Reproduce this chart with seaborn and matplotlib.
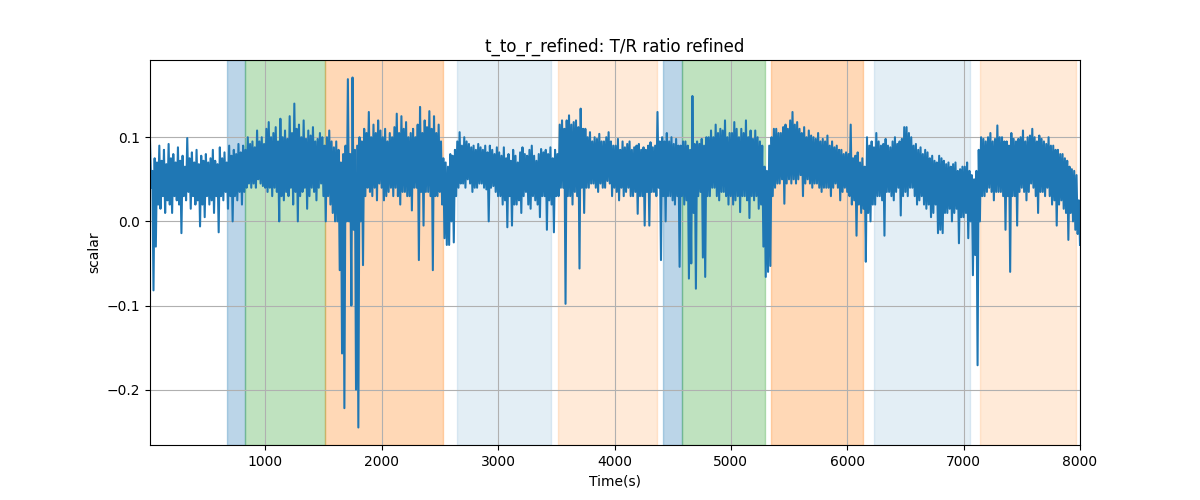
import numpy as np
import matplotlib
matplotlib.use("Agg")
import matplotlib.pyplot as plt
import seaborn as sns

# ---- data ----
# The signal is dense: for every 20 s bin we keep its peak and its trough,
# and the line visits them alternately.
t_start, t_end = 8, 8000

peaks_0 = [0.095, 0.060, 0.075, 0.070, 0.090, 0.072, 0.085, 0.068, 0.092, 0.075,
           0.080, 0.070, 0.088, 0.072, 0.078, 0.065, 0.099, 0.075, 0.082, 0.070,
           0.085, 0.068, 0.078, 0.072, 0.080, 0.070, 0.075, 0.085, 0.072, 0.068,
           0.088, 0.075, 0.082, 0.070, 0.090, 0.078, 0.085, 0.080, 0.092, 0.082,
           0.090, 0.085, 0.100, 0.092, 0.095, 0.088, 0.108, 0.095, 0.100, 0.092]
troughs_0 = [0.040, -0.082, -0.030, 0.020, 0.015, 0.030, 0.010, 0.025, 0.020, 0.010,
             0.030, 0.025, 0.020, -0.014, 0.030, 0.025, 0.035, 0.015, 0.030, 0.020,
             0.025, -0.006, 0.020, 0.005, 0.030, 0.020, 0.025, 0.010, 0.030, -0.013,
             0.030, 0.025, 0.035, 0.015, 0.030, 0.000, 0.030, 0.025, 0.035, 0.020,
             0.035, 0.040, 0.045, 0.040, 0.045, 0.040, 0.050, 0.045, 0.042, 0.040]

peaks_1 = [0.110, 0.118, 0.100, 0.105, 0.112, 0.095, 0.122, 0.100, 0.108, 0.098,
           0.125, 0.105, 0.140, 0.110, 0.115, 0.100, 0.120, 0.098, 0.108, 0.102,
           0.112, 0.095, 0.098, 0.105, 0.100, 0.090, 0.100, 0.108, 0.095, 0.088,
           0.095, 0.085, 0.070, 0.080, 0.090, 0.169, 0.080, 0.171, 0.085, 0.090,
           0.100, 0.095, 0.110, 0.105, 0.130, 0.100, 0.115, 0.105, 0.120, 0.108]
troughs_1 = [0.035, 0.040, 0.030, 0.040, 0.035, 0.000, 0.030, 0.025, 0.035, 0.030,
             0.040, 0.020, 0.035, 0.000, 0.030, 0.035, 0.040, 0.015, 0.030, 0.040,
             0.035, 0.025, 0.040, 0.045, 0.030, 0.000, 0.030, 0.020, 0.010, 0.000,
             0.000, -0.058, -0.157, -0.222, 0.000, 0.000, -0.100, -0.010, -0.200, -0.245,
             0.000, -0.052, 0.030, 0.040, 0.035, 0.030, 0.040, 0.025, 0.045, 0.040]

peaks_2 = [0.100, 0.110, 0.095, 0.105, 0.100, 0.112, 0.128, 0.105, 0.125, 0.110,
           0.118, 0.100, 0.105, 0.110, 0.100, 0.115, 0.136, 0.105, 0.120, 0.112,
           0.131, 0.110, 0.125, 0.105, 0.115, 0.095, 0.075, 0.070, 0.065, 0.080,
           0.078, 0.085, 0.095, 0.106, 0.090, 0.100, 0.095, 0.092, 0.088, 0.090,
           0.085, 0.092, 0.088, 0.085, 0.090, 0.082, 0.090, 0.085, 0.080, 0.088]
troughs_2 = [0.025, 0.030, 0.035, 0.040, 0.030, 0.040, 0.030, 0.020, 0.035, 0.035,
             0.030, 0.030, 0.013, 0.040, 0.040, -0.046, 0.035, -0.005, 0.035, 0.035,
             0.030, -0.058, 0.030, 0.030, 0.035, 0.020, -0.020, -0.028, -0.028, 0.000,
             -0.025, 0.030, 0.040, 0.045, 0.045, 0.040, 0.050, 0.045, 0.035, 0.040,
             0.040, 0.045, 0.045, 0.040, 0.038, 0.000, 0.040, 0.042, 0.035, 0.030]

peaks_3 = [0.082, 0.078, 0.088, 0.075, 0.080, 0.072, 0.085, 0.078, 0.070, 0.082,
           0.088, 0.080, 0.078, 0.085, 0.090, 0.078, 0.072, 0.080, 0.086, 0.082,
           0.085, 0.080, 0.088, 0.075, 0.085, 0.080, 0.115, 0.120, 0.110, 0.120,
           0.126, 0.115, 0.118, 0.120, 0.112, 0.134, 0.110, 0.110, 0.100, 0.106,
           0.095, 0.100, 0.098, 0.104, 0.095, 0.095, 0.100, 0.106, 0.095, 0.090]
troughs_3 = [0.030, 0.020, 0.025, -0.007, 0.030, -0.005, 0.020, 0.020, 0.025, 0.010,
             0.030, 0.035, 0.020, 0.015, 0.030, 0.025, 0.020, 0.005, 0.030, 0.030,
             -0.010, 0.025, 0.020, -0.013, 0.030, 0.030, 0.040, 0.040, -0.098, 0.030,
             0.030, 0.020, 0.035, 0.030, -0.056, 0.040, 0.010, 0.040, 0.040, 0.045,
             0.045, 0.040, 0.035, 0.045, 0.040, 0.040, 0.048, 0.045, 0.030, 0.040]

peaks_4 = [0.090, 0.098, 0.085, 0.095, 0.088, 0.092, 0.095, 0.085, 0.088, 0.090,
           0.092, 0.085, 0.088, 0.085, 0.090, 0.094, 0.088, 0.090, 0.130, 0.095,
           0.100, 0.095, 0.105, 0.095, 0.100, 0.092, 0.098, 0.090, 0.090, 0.095,
           0.095, 0.090, 0.085, 0.149, 0.092, 0.095, 0.092, 0.098, 0.090, 0.100,
           0.100, 0.108, 0.100, 0.115, 0.105, 0.110, 0.108, 0.120, 0.100, 0.105]
troughs_4 = [0.035, 0.025, 0.040, 0.030, 0.035, 0.040, 0.030, 0.030, 0.035, 0.009,
             0.030, 0.030, -0.005, 0.035, -0.005, 0.035, 0.035, 0.030, 0.040, -0.046,
             0.030, 0.000, 0.030, 0.030, 0.025, 0.020, 0.030, -0.054, 0.030, 0.020,
             0.025, -0.068, -0.050, 0.010, -0.080, 0.030, 0.035, -0.043, -0.066, 0.030,
             0.030, 0.040, 0.040, 0.030, 0.025, 0.035, 0.035, 0.030, 0.020, 0.030]

peaks_5 = [0.105, 0.118, 0.110, 0.100, 0.110, 0.105, 0.120, 0.100, 0.108, 0.098,
           0.108, 0.100, 0.095, 0.090, 0.065, 0.060, 0.090, 0.100, 0.110, 0.110,
           0.105, 0.105, 0.112, 0.115, 0.110, 0.120, 0.130, 0.115, 0.118, 0.110,
           0.105, 0.112, 0.100, 0.108, 0.102, 0.100, 0.098, 0.105, 0.095, 0.098,
           0.095, 0.102, 0.090, 0.095, 0.088, 0.090, 0.085, 0.085, 0.080, 0.082]
troughs_5 = [0.020, 0.025, 0.030, 0.011, 0.030, 0.030, 0.025, 0.004, 0.030, 0.025,
             0.030, 0.015, 0.020, -0.030, -0.066, -0.060, -0.053, 0.030, 0.040, 0.045,
             0.045, 0.050, 0.021, 0.045, 0.050, 0.045, 0.050, 0.045, 0.050, 0.055,
             0.030, 0.045, 0.050, 0.045, 0.040, 0.045, 0.045, 0.040, 0.035, 0.040,
             0.040, 0.040, 0.030, 0.040, 0.045, 0.040, 0.025, 0.035, 0.040, 0.035]

peaks_6 = [0.080, 0.115, 0.075, 0.078, 0.082, 0.070, 0.075, 0.065, 0.100, 0.090,
           0.095, 0.088, 0.105, 0.095, 0.090, 0.092, 0.098, 0.090, 0.088, 0.095,
           0.100, 0.092, 0.095, 0.098, 0.112, 0.112, 0.105, 0.100, 0.090, 0.092,
           0.085, 0.088, 0.080, 0.085, 0.082, 0.075, 0.078, 0.072, 0.070, 0.078,
           0.075, 0.072, 0.068, 0.070, 0.065, 0.068, 0.070, 0.060, 0.062, 0.065]
troughs_6 = [0.030, 0.020, 0.025, -0.017, 0.020, 0.010, 0.015, -0.048, 0.010, 0.000,
             0.020, 0.020, 0.030, 0.030, 0.025, -0.017, 0.035, 0.035, 0.030, 0.025,
             0.035, 0.040, 0.007, 0.030, 0.035, 0.030, 0.040, 0.040, 0.030, 0.020,
             0.025, 0.030, 0.020, 0.015, 0.020, 0.005, 0.010, 0.020, -0.014, -0.010,
             -0.014, 0.010, 0.010, 0.015, 0.000, 0.010, 0.015, -0.026, 0.005, 0.005]

peaks_7 = [0.065, 0.070, 0.060, 0.055, 0.050, 0.060, 0.085, 0.100, 0.098, 0.095,
           0.100, 0.105, 0.095, 0.098, 0.114, 0.100, 0.100, 0.095, 0.095, 0.090,
           0.105, 0.098, 0.095, 0.098, 0.100, 0.108, 0.095, 0.100, 0.102, 0.110,
           0.100, 0.095, 0.102, 0.098, 0.095, 0.092, 0.100, 0.090, 0.090, 0.085,
           0.085, 0.080, 0.080, 0.075, 0.072, 0.065, 0.062, 0.060, 0.055, 0.025]
troughs_7 = [0.010, -0.020, 0.000, -0.064, -0.040, -0.171, 0.000, 0.030, 0.030, 0.035,
             0.040, 0.035, 0.025, 0.035, 0.035, 0.035, 0.030, -0.010, 0.030, -0.060,
             0.030, 0.030, -0.005, 0.035, 0.040, 0.035, 0.025, 0.035, 0.045, 0.040,
             0.030, 0.010, 0.035, 0.035, 0.030, 0.040, 0.030, 0.020, 0.025, -0.005,
             0.020, 0.025, 0.015, 0.010, -0.022, 0.010, 0.000, -0.010, -0.015, -0.028]

span_starts = [667, 825, 1513, 2645, 3511, 4414, 4580, 5342, 6228, 7139]
span_ends = [825, 1513, 2525, 3456, 4362, 4580, 5290, 6139, 7059, 7962]
span_kinds = ["blue", "green", "orange", "lblue", "lorange",
              "blue", "green", "orange", "lblue", "lorange"]

title = "t_to_r_refined: T/R ratio refined"
xlabel = "Time(s)"
ylabel = "scalar"

# ---- build ----
peaks = np.array(peaks_0 + peaks_1 + peaks_2 + peaks_3 +
                 peaks_4 + peaks_5 + peaks_6 + peaks_7)
troughs = np.array(troughs_0 + troughs_1 + troughs_2 + troughs_3 +
                   troughs_4 + troughs_5 + troughs_6 + troughs_7)
values = np.column_stack([peaks, troughs]).ravel()
time = np.linspace(t_start, t_end, values.size)

kind_style = {
    "blue": ("tab:blue", 0.3),
    "green": ("tab:green", 0.3),
    "orange": ("tab:orange", 0.3),
    "lblue": ("tab:blue", 0.12),
    "lorange": ("tab:orange", 0.16),
}

fig, ax = plt.subplots(figsize=(12, 5), dpi=100)
for s, e, k in zip(span_starts, span_ends, span_kinds):
    c, a = kind_style[k]
    ax.axvspan(s, e, color=c, alpha=a)

sns.lineplot(x=time, y=values, ax=ax, color="tab:blue", linewidth=1.5)
ax.set_xlim(time[0], time[-1])
ax.grid(True)
ax.set_title(title)
ax.set_xlabel(xlabel)
ax.set_ylabel(ylabel)
fig.savefig("out.png", dpi=100)
